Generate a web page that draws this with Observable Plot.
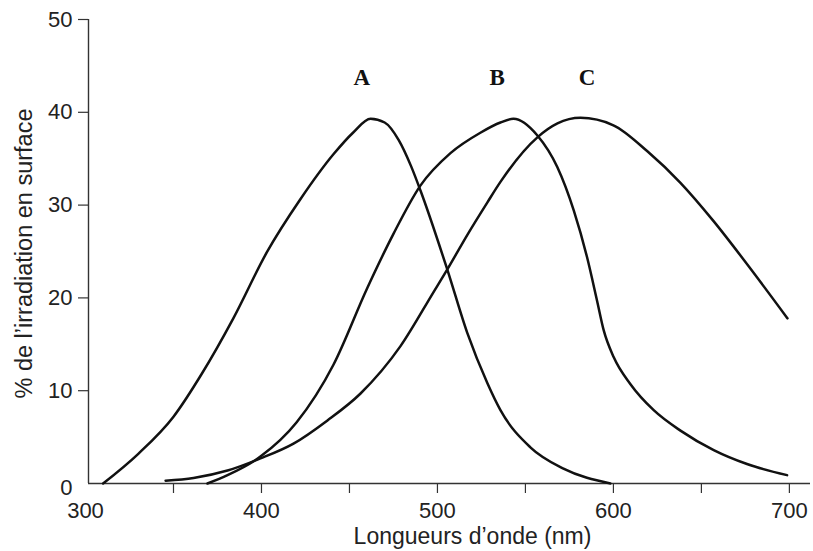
<!DOCTYPE html>
<html>
<head>
<meta charset="utf-8">
<script src="https://cdn.jsdelivr.net/npm/d3@7"></script>
<script src="https://cdn.jsdelivr.net/npm/@observablehq/plot@0.6"></script>
<style>
  html, body { margin: 0; padding: 0; background: #fff; }
</style>
</head>
<body>
<div id="chart"></div>
<script>
// ---- Data ----
const seriesNames = ["A", "B", "C"];

const wavelengthA = [310, 330, 350, 366, 384, 403, 422, 441, 452, 462, 470, 478, 485, 490.3, 505.7, 517, 528.4, 535.8, 552.8, 571.6, 598.3];
const irradianceA = [0, 3.2, 7.2, 11.8, 17.8, 24.9, 30.6, 35.5, 37.8, 39.3, 38.9, 37.0, 34.2, 31.6, 23.0, 16.2, 10.8, 7.9, 3.9, 1.6, 0];

const wavelengthB = [369.3, 380.7, 399.4, 420, 440.9, 460.2, 475, 490.3, 507.4, 524.4, 535.8, 543.2, 556.8, 568.1, 577.5, 585, 590.7, 594.5, 600.2, 609.7, 622.9, 638.1, 657, 675.9, 698.7];
const irradianceB = [0, 0.9, 2.9, 6.6, 12.8, 21.1, 26.9, 32.1, 35.6, 37.8, 38.9, 39.3, 37.5, 34.1, 29.4, 24.4, 19.7, 16.5, 13.6, 10.7, 7.9, 5.7, 3.6, 2.1, 0.9];

const wavelengthC = [345.5, 361.4, 380.7, 399.4, 418.2, 437.5, 456.3, 479, 497.7, 505.7, 517, 528.4, 535.8, 556.8, 568.2, 581.3, 600, 619.3, 638.1, 656.8, 676.1, 698.9];
const irradianceC = [0.3, 0.6, 1.4, 2.7, 4.3, 6.8, 9.7, 14.8, 20.6, 23.1, 26.8, 30.3, 32.5, 37.3, 38.8, 39.4, 38.6, 35.8, 32.4, 28.3, 23.6, 17.8];

const labelWavelength = [457, 534, 585];
const labelIrradiance = [43.7, 43.7, 43.7];

const xDomain = [301.7, 712];
const yDomain = [0, 50];
const xTickMarks = [350, 400, 450, 500, 550, 600, 650, 700];
const xTickLabels = [300, 400, 500, 600, 700];
const yTickMarks = [10, 20, 30, 40, 50];
const yTickLabels = [0, 10, 20, 30, 40, 50];

const xTitle = "Longueurs d’onde (nm)";
const yTitle = "% de l’irradiation en surface";

// ---- Build table ----
const wl = [wavelengthA, wavelengthB, wavelengthC];
const ir = [irradianceA, irradianceB, irradianceC];
const data = seriesNames.flatMap((s, i) => wl[i].map((x, j) => ({series: s, nm: x, v: ir[i][j]})));
const labels = seriesNames.map((s, i) => ({text: s, nm: labelWavelength[i], v: labelIrradiance[i]}));

const sans = "'Liberation Sans', Arial, Helvetica, sans-serif";
const serif = "'Liberation Serif', 'Times New Roman', serif";

const chart = Plot.plot({
  width: 813,
  height: 551,
  marginLeft: 88,
  marginRight: 3,
  marginTop: 19,
  marginBottom: 68,
  x: {domain: xDomain},
  y: {domain: yDomain},
  style: {fontFamily: sans, fontSize: "22px", color: "#222", background: "#fff", overflow: "visible"},
  marks: [
    Plot.axisX({ticks: xTickMarks, tickSize: 10, tickFormat: () => "", label: null, stroke: "#333", strokeWidth: 1.2}),
    Plot.axisY({ticks: yTickMarks, tickSize: 10, tickFormat: () => "", label: null, stroke: "#333", strokeWidth: 1.2}),
    Plot.ruleY([yDomain[0]], {stroke: "#333", strokeWidth: 1.4}),
    Plot.ruleX([xDomain[0]], {y1: yDomain[0], y2: yDomain[1], stroke: "#333", strokeWidth: 1.4}),
    Plot.text(xTickLabels, {x: d => d, frameAnchor: "bottom", lineAnchor: "middle", dy: 27, fontSize: 22, fill: "#222"}),
    Plot.text(yTickLabels.filter(d => d > 0), {y: d => d, frameAnchor: "left", dx: -16, textAnchor: "end", fontSize: 22, fill: "#222"}),
    Plot.text(yTickLabels.filter(d => d === 0), {y: d => d, frameAnchor: "left", dx: -16, dy: 4, textAnchor: "end", fontSize: 22, fill: "#222"}),
    Plot.text([xTitle], {frameAnchor: "bottom", lineAnchor: "middle", dx: 23, dy: 53, fontSize: 23, fill: "#222"}),
    Plot.text([yTitle], {frameAnchor: "left", textAnchor: "middle", rotate: -90, dx: -64, dy: 2, fontSize: 23.5, fill: "#222"}),
    Plot.line(data, {x: "nm", y: "v", z: "series", curve: "monotone-x", stroke: "#111", strokeWidth: 2.5}),
    Plot.text(labels, {x: "nm", y: "v", text: "text", fontFamily: serif, fontWeight: "bold", fontSize: 23, fill: "#111"})
  ]
});
document.getElementById("chart").append(chart);
</script>
</body>
</html>
